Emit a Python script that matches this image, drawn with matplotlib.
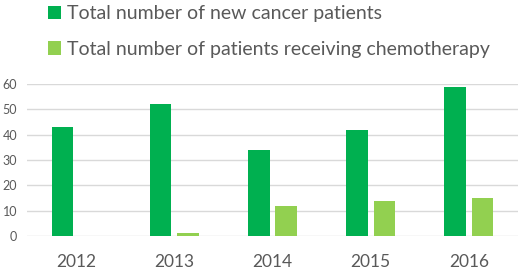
import numpy as np
import matplotlib
matplotlib.use("Agg")
import matplotlib.pyplot as plt

years = ["2012", "2013", "2014", "2015", "2016"]
new_patients = [43, 52, 34, 42, 59]
chemo_patients = [0, 1, 12, 14, 15]
labels = ["Total number of new cancer patients",
          "Total number of patients receiving chemotherapy"]

plt.rcParams["font.family"] = ["Lato", "DejaVu Sans"]
text_gray = "#595959"

fig = plt.figure(figsize=(5.2, 2.7), dpi=100)
ax = fig.add_axes([27 / 520, 34 / 270, 491 / 520, 152 / 270])

x = np.arange(len(years))
w = 0.22
b1 = ax.bar(x - 0.14, new_patients, w, color="#00B050", zorder=3)
b2 = ax.bar(x + 0.14, chemo_patients, w, color="#92D050", zorder=3)

ax.set_xlim(-0.5, len(years) - 0.5)
ax.set_ylim(0, 60)
ax.set_yticks(range(0, 61, 10))
ax.set_xticks(x)
ax.set_xticklabels(years)
ax.grid(axis="y", color="#d9d9d9", linewidth=1, zorder=0)
for s in ax.spines.values():
    s.set_visible(False)
ax.tick_params(axis="y", length=0, pad=7, labelsize=9, labelcolor=text_gray)
ax.tick_params(axis="x", length=0, pad=13, labelsize=12.5, labelcolor=text_gray)

fig.legend([b1, b2], labels, loc="upper left", bbox_to_anchor=(30 / 520, 1.045),
           frameon=False, fontsize=14, labelcolor=text_gray, handlelength=0.7,
           handleheight=0.7, handletextpad=0.3, labelspacing=0.95)

fig.savefig("out.png", dpi=100)
